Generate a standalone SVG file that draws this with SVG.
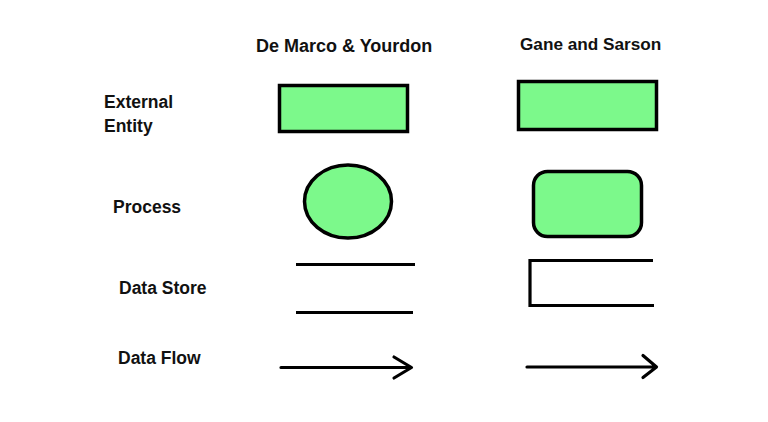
<svg xmlns="http://www.w3.org/2000/svg" width="768" height="422" viewBox="0 0 768 422">
<style>
text{font-family:"Liberation Sans",Arial,sans-serif;font-weight:bold;fill:#111;}
.title{font-size:18px;}
.lbl{font-size:17.5px;}
.shape{fill:#7cf98b;stroke:#000;stroke-width:3.5;}
.ln{stroke:#000;stroke-width:3.2;fill:none;stroke-linecap:butt;}
.arr{stroke:#000;stroke-width:3.2;fill:none;stroke-linecap:round;stroke-linejoin:round;}
</style>
<rect width="768" height="422" fill="#fff"/>
<g id="headers">
<text class="title" x="256" y="52">De Marco &amp; Yourdon</text>
<text class="title" x="520" y="50" style="font-size:17.2px">Gane and Sarson</text>
</g>
<g id="row-labels">
<text class="lbl" x="104" y="108">External</text>
<text class="lbl" x="104" y="132">Entity</text>
<text class="lbl" x="113" y="213">Process</text>
<text class="lbl" x="119" y="294">Data Store</text>
<text class="lbl" x="118" y="364">Data Flow</text>
</g>
<g id="dm-external-entity"><rect class="shape" x="279.5" y="85.5" width="128" height="46"/></g>
<g id="gs-external-entity"><rect class="shape" x="518.5" y="81.5" width="138" height="48"/></g>
<g id="dm-process"><ellipse class="shape" cx="348" cy="201.5" rx="43.5" ry="36.5"/></g>
<g id="gs-process"><rect class="shape" x="533.5" y="171.5" width="108" height="65" rx="14" ry="14"/></g>
<g id="dm-data-store">
<line class="ln" x1="296" y1="264.5" x2="415" y2="264.5"/>
<line class="ln" x1="296" y1="312.5" x2="413" y2="312.5"/>
</g>
<g id="gs-data-store">
<path class="ln" d="M653 260.5 H530 V305.5 H654"/>
</g>
<g id="connectors">
<path class="arr" d="M281 367.5 H411 M394 357 L411.5 367.5 L394 378"/>
<path class="arr" d="M527 367 H656 M643 355.5 L656.5 367 L643 377.5"/>
</g>
</svg>
